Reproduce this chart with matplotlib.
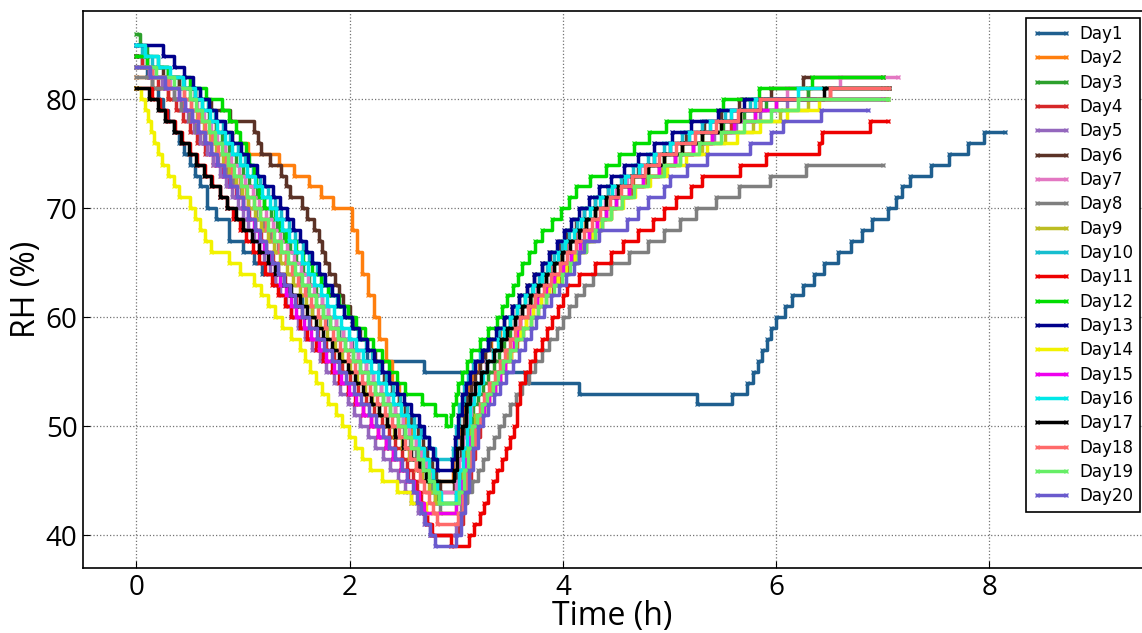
import matplotlib
matplotlib.use('Agg')
import matplotlib.pyplot as plt

plt.rcParams['font.family'] = ['Open Sans', 'DejaVu Sans']

# (time h, RH %) step points, one list per day
day1 = [(0, 84), (0.05, 83), (0.1, 82), (0.15, 81), (0.2, 80), (0.25, 79), (0.3, 78), (0.35, 77), (0.4, 76),
        (0.45, 75), (0.5, 74), (0.55, 73), (0.6, 72), (0.66, 70), (0.75, 69), (0.87, 67), (1.0, 66), (1.1, 65),
        (1.18, 64), (1.3, 63), (1.42, 62), (1.55, 61), (1.65, 60), (1.78, 59), (1.9, 58), (2.02, 57), (2.16, 56),
        (2.7, 55), (3.66, 54), (4.15, 53), (5.26, 52), (5.59, 53), (5.73, 54), (5.78, 55), (5.83, 56), (5.87, 57),
        (5.91, 58), (5.95, 59), (6.0, 60), (6.08, 61), (6.15, 62), (6.25, 63), (6.35, 64), (6.45, 65), (6.58, 66),
        (6.7, 67), (6.8, 68), (6.9, 69), (7.05, 70), (7.12, 71), (7.18, 72), (7.25, 73), (7.45, 74), (7.62, 75),
        (7.8, 76), (7.95, 77), (8.15, 77)]
day2 = [(0, 82), (0.15, 81), (0.3, 80), (0.45, 79), (0.6, 78), (0.75, 77), (0.9, 76), (1.05, 75), (1.34, 74),
        (1.48, 73), (1.62, 72), (1.73, 71), (1.84, 70), (2.02, 68), (2.07, 66), (2.12, 64), (2.17, 62), (2.23, 60),
        (2.28, 58), (2.34, 56), (2.4, 54), (2.46, 52), (2.52, 50), (2.58, 48), (2.64, 47), (2.72, 46), (2.8, 45),
        (2.97, 47), (3.0, 49), (3.03, 51), (3.07, 53), (3.11, 54), (3.16, 55), (3.21, 56), (3.27, 57), (3.33, 58),
        (3.41, 59), (3.5, 60), (3.57, 61), (3.64, 62), (3.72, 63), (3.8, 64), (3.88, 65), (3.96, 66), (4.04, 67),
        (4.12, 68), (4.21, 69), (4.3, 70), (4.4, 71), (4.52, 72), (4.66, 73), (4.8, 74), (4.95, 75), (5.12, 76),
        (5.3, 77), (5.48, 78), (5.66, 79), (5.85, 80), (6.3, 81), (7.05, 81)]
day3 = [(0, 86), (0.03, 85), (0.1, 84), (0.2, 83), (0.3, 82), (0.4, 81), (0.55, 80), (0.62, 79), (0.68, 78),
        (0.75, 77), (0.8, 76), (0.87, 75), (0.93, 74), (1.0, 73), (1.06, 72), (1.13, 71), (1.2, 70), (1.26, 69),
        (1.32, 68), (1.38, 67), (1.44, 66), (1.5, 65), (1.56, 64), (1.62, 63), (1.68, 62), (1.74, 61), (1.8, 60),
        (1.87, 59), (1.94, 58), (2.01, 57), (2.08, 56), (2.15, 55), (2.22, 54), (2.29, 53), (2.36, 52), (2.43, 51),
        (2.5, 50), (2.56, 49), (2.62, 48), (2.67, 47), (2.71, 46), (2.75, 45), (2.78, 44), (2.82, 43),
        (3.0, 44), (3.04, 46), (3.08, 48), (3.12, 50), (3.16, 52), (3.2, 53), (3.25, 54), (3.3, 55), (3.35, 56),
        (3.4, 57), (3.45, 58), (3.5, 59), (3.55, 60), (3.62, 61), (3.7, 62), (3.77, 63), (3.84, 64), (3.92, 65),
        (3.99, 66), (4.06, 67), (4.14, 68), (4.22, 69), (4.3, 70), (4.4, 71), (4.52, 72), (4.65, 73), (4.8, 74),
        (4.95, 75), (5.12, 76), (5.3, 77), (5.5, 78), (5.7, 79), (5.9, 80), (6.3, 81), (7.06, 81)]
day4 = [(0, 84), (0.05, 83), (0.12, 82), (0.2, 81), (0.3, 80), (0.37, 79), (0.44, 78), (0.5, 77), (0.57, 76),
        (0.64, 75), (0.72, 74), (0.79, 73), (0.86, 72), (0.93, 71), (1.0, 70), (1.06, 69), (1.11, 68), (1.17, 67),
        (1.22, 66), (1.28, 65), (1.33, 64), (1.39, 63), (1.44, 62), (1.5, 61), (1.55, 60), (1.63, 59), (1.7, 58),
        (1.78, 57), (1.85, 56), (1.93, 55), (2.0, 54), (2.08, 53), (2.15, 52), (2.23, 51), (2.3, 50), (2.37, 49),
        (2.43, 48), (2.49, 47), (2.54, 46), (2.59, 45), (2.63, 44), (2.67, 43), (2.7, 42), (2.73, 41), (2.76, 40),
        (3.02, 41), (3.06, 43), (3.1, 45), (3.14, 47), (3.18, 49), (3.22, 51), (3.26, 52), (3.31, 53), (3.36, 54),
        (3.41, 55), (3.46, 56), (3.51, 57), (3.57, 58), (3.63, 59), (3.7, 60), (3.77, 61), (3.84, 62), (3.91, 63),
        (3.98, 64), (4.06, 65), (4.14, 66), (4.22, 67), (4.3, 68), (4.37, 69), (4.45, 70), (4.55, 71), (4.65, 72),
        (4.77, 73), (4.9, 74), (5.05, 75), (5.22, 76), (5.4, 77), (5.58, 78), (5.8, 79), (6.0, 80), (6.5, 81),
        (7.0, 81)]
day5 = [(0, 83), (0.12, 82), (0.24, 81), (0.35, 80), (0.42, 79), (0.48, 78), (0.54, 77), (0.6, 76), (0.66, 75),
        (0.72, 74), (0.78, 73), (0.84, 72), (0.9, 71), (0.95, 70), (1.0, 69), (1.05, 68), (1.1, 67), (1.15, 66),
        (1.2, 65), (1.25, 64), (1.3, 63), (1.35, 62), (1.4, 61), (1.45, 60), (1.52, 59), (1.58, 58), (1.65, 57),
        (1.72, 56), (1.78, 55), (1.85, 54), (1.91, 53), (1.98, 52), (2.04, 51), (2.1, 50), (2.17, 49), (2.24, 48),
        (2.31, 47), (2.38, 46), (2.45, 45), (2.52, 44), (2.58, 43), (2.64, 42), (2.7, 41), (2.75, 40),
        (3.0, 41), (3.04, 43), (3.08, 45), (3.12, 47), (3.16, 49), (3.2, 51), (3.24, 52), (3.29, 53), (3.34, 54),
        (3.39, 55), (3.44, 56), (3.49, 57), (3.54, 58), (3.57, 59), (3.6, 60), (3.68, 61), (3.76, 62), (3.84, 63),
        (3.92, 64), (4.0, 65), (4.08, 66), (4.16, 67), (4.24, 68), (4.32, 69), (4.4, 70), (4.5, 71), (4.62, 72),
        (4.75, 73), (4.9, 74), (5.05, 75), (5.22, 76), (5.42, 77), (5.62, 78), (5.85, 79), (6.1, 80), (7.05, 80)]
day6 = [(0, 84), (0.1, 83), (0.25, 82), (0.4, 81), (0.55, 80), (0.7, 79), (0.88, 78), (1.1, 77), (1.14, 76),
        (1.17, 75), (1.25, 74), (1.36, 73), (1.4, 72), (1.44, 71), (1.55, 70), (1.6, 69), (1.67, 68), (1.71, 67),
        (1.74, 66), (1.77, 65), (1.81, 64), (1.86, 63), (1.9, 62), (1.94, 61), (2.0, 60), (2.04, 59), (2.1, 58),
        (2.16, 57), (2.24, 56), (2.28, 55), (2.32, 54), (2.4, 53), (2.46, 52), (2.52, 51), (2.58, 50), (2.64, 49),
        (2.69, 48), (2.73, 47), (2.77, 46), (2.81, 45), (2.85, 44),
        (2.98, 45), (3.01, 47), (3.04, 49), (3.07, 51), (3.1, 53), (3.14, 54), (3.18, 55), (3.22, 56), (3.27, 57),
        (3.32, 58), (3.38, 59), (3.45, 60), (3.52, 61), (3.59, 62), (3.66, 63), (3.73, 64), (3.8, 65), (3.88, 66),
        (3.96, 67), (4.04, 68), (4.12, 69), (4.2, 70), (4.3, 71), (4.42, 72), (4.55, 73), (4.7, 74), (4.85, 75),
        (5.0, 76), (5.15, 77), (5.32, 78), (5.48, 79), (5.65, 80), (5.95, 81), (6.25, 82), (7.0, 82)]
day7 = [(0, 83), (0.15, 82), (0.32, 81), (0.5, 80), (0.57, 79), (0.63, 78), (0.7, 77), (0.76, 76), (0.83, 75),
        (0.89, 74), (0.96, 73), (1.02, 72), (1.09, 71), (1.15, 70), (1.22, 69), (1.28, 68), (1.35, 67), (1.41, 66),
        (1.48, 65), (1.54, 64), (1.61, 63), (1.67, 62), (1.74, 61), (1.8, 60), (1.87, 59), (1.94, 58), (2.01, 57),
        (2.08, 56), (2.15, 55), (2.22, 54), (2.29, 53), (2.36, 52), (2.43, 51), (2.5, 50), (2.56, 49), (2.62, 48),
        (2.67, 47), (2.72, 46), (2.76, 45), (2.8, 44),
        (3.0, 45), (3.03, 47), (3.06, 49), (3.1, 51), (3.14, 53), (3.18, 54), (3.23, 55), (3.28, 56), (3.34, 57),
        (3.4, 58), (3.47, 59), (3.55, 60), (3.62, 61), (3.69, 62), (3.76, 63), (3.84, 64), (3.91, 65), (3.99, 66),
        (4.06, 67), (4.14, 68), (4.22, 69), (4.3, 70), (4.39, 71), (4.5, 72), (4.6, 73), (4.72, 74), (4.85, 75),
        (5.0, 76), (5.18, 77), (5.38, 78), (5.58, 79), (5.8, 80), (6.1, 81), (6.6, 82), (7.14, 82)]
day8 = [(0, 82), (0.15, 81), (0.35, 80), (0.42, 79), (0.49, 78), (0.56, 77), (0.63, 76), (0.7, 75), (0.77, 74),
        (0.84, 73), (0.91, 72), (0.98, 71), (1.05, 70), (1.12, 69), (1.19, 68), (1.26, 67), (1.33, 66), (1.4, 65),
        (1.47, 64), (1.54, 63), (1.61, 62), (1.68, 61), (1.75, 60), (1.82, 59), (1.89, 58), (1.96, 57), (2.03, 56),
        (2.1, 55), (2.17, 54), (2.24, 53), (2.31, 52), (2.38, 51), (2.45, 50), (2.51, 49), (2.57, 48), (2.62, 47),
        (2.67, 46), (2.72, 45), (2.76, 44), (2.8, 43), (2.85, 42),
        (3.05, 43), (3.1, 44), (3.15, 45), (3.2, 46), (3.25, 47), (3.3, 48), (3.35, 49), (3.4, 50), (3.45, 51),
        (3.5, 52), (3.56, 53), (3.62, 54), (3.68, 55), (3.74, 56), (3.8, 57), (3.87, 58), (3.94, 59), (4.0, 60),
        (4.06, 61), (4.12, 62), (4.2, 63), (4.28, 64), (4.45, 65), (4.62, 66), (4.8, 67), (4.95, 68), (5.1, 69),
        (5.25, 70), (5.44, 71), (5.65, 72), (5.94, 73), (6.28, 74), (7.0, 74)]
day9 = [(0, 83), (0.15, 82), (0.3, 81), (0.45, 80), (0.51, 79), (0.57, 78), (0.63, 77), (0.69, 76), (0.75, 75),
        (0.81, 74), (0.87, 73), (0.93, 72), (0.99, 71), (1.05, 70), (1.11, 69), (1.17, 68), (1.23, 67), (1.29, 66),
        (1.35, 65), (1.41, 64), (1.47, 63), (1.53, 62), (1.59, 61), (1.65, 60), (1.72, 59), (1.79, 58), (1.86, 57),
        (1.93, 56), (2.0, 55), (2.07, 54), (2.14, 53), (2.21, 52), (2.28, 51), (2.35, 50), (2.42, 49), (2.49, 48),
        (2.56, 47), (2.62, 46), (2.68, 45), (2.74, 44), (2.8, 43),
        (3.02, 44), (3.06, 46), (3.1, 48), (3.14, 50), (3.18, 51), (3.23, 52), (3.28, 53), (3.33, 54), (3.38, 55),
        (3.43, 56), (3.48, 57), (3.54, 58), (3.6, 59), (3.65, 60), (3.72, 61), (3.79, 62), (3.86, 63), (3.94, 64),
        (4.02, 65), (4.1, 66), (4.17, 67), (4.25, 68), (4.32, 69), (4.4, 70), (4.5, 71), (4.62, 72), (4.76, 73),
        (4.92, 74), (5.1, 75), (5.3, 76), (5.52, 77), (5.78, 78), (6.04, 79), (6.3, 80), (7.05, 80)]
day10 = [(0, 85), (0.05, 84), (0.15, 83), (0.3, 82), (0.45, 81), (0.6, 80), (0.67, 79), (0.74, 78), (0.81, 77),
         (0.88, 76), (0.95, 75), (1.02, 74), (1.09, 73), (1.16, 72), (1.23, 71), (1.3, 70), (1.36, 69), (1.43, 68),
         (1.49, 67), (1.56, 66), (1.62, 65), (1.69, 64), (1.75, 63), (1.82, 62), (1.88, 61), (1.95, 60), (2.02, 59),
         (2.08, 58), (2.15, 57), (2.21, 56), (2.28, 55), (2.34, 54), (2.41, 53), (2.47, 52), (2.54, 51), (2.6, 50),
         (2.67, 49), (2.74, 48), (2.8, 47),
         (2.97, 48), (3.0, 50), (3.03, 52), (3.07, 54), (3.11, 55), (3.16, 56), (3.22, 57), (3.3, 58), (3.4, 59),
         (3.5, 60), (3.57, 61), (3.64, 62), (3.71, 63), (3.78, 64), (3.85, 65), (3.92, 66), (3.99, 67), (4.06, 68),
         (4.13, 69), (4.2, 70), (4.3, 71), (4.42, 72), (4.54, 73), (4.66, 74), (4.8, 75), (4.95, 76), (5.12, 77),
         (5.3, 78), (5.52, 79), (5.75, 80), (7.03, 80)]
day11 = [(0, 81), (0.15, 80), (0.22, 79), (0.29, 78), (0.36, 77), (0.43, 76), (0.5, 75), (0.57, 74), (0.64, 73),
         (0.71, 72), (0.78, 71), (0.85, 70), (0.91, 69), (0.97, 68), (1.03, 67), (1.09, 66), (1.15, 65), (1.21, 64),
         (1.27, 63), (1.33, 62), (1.39, 61), (1.45, 60), (1.53, 59), (1.6, 58), (1.68, 57), (1.75, 56), (1.83, 55),
         (1.9, 54), (1.98, 53), (2.05, 52), (2.13, 51), (2.2, 50), (2.27, 49), (2.34, 48), (2.41, 47), (2.48, 46),
         (2.55, 45), (2.61, 44), (2.66, 43), (2.7, 42), (2.73, 41), (2.77, 40), (2.95, 39),
         (3.12, 40), (3.17, 41), (3.22, 42), (3.26, 43), (3.3, 44), (3.34, 45), (3.38, 46), (3.43, 47), (3.47, 48),
         (3.5, 49), (3.54, 50), (3.57, 52), (3.6, 54), (3.64, 55), (3.69, 56), (3.74, 57), (3.8, 58), (3.85, 59),
         (3.9, 60), (3.95, 61), (4.0, 62), (4.04, 63), (4.15, 64), (4.3, 65), (4.45, 66), (4.56, 67), (4.7, 68),
         (4.84, 69), (4.95, 70), (5.06, 71), (5.2, 72), (5.3, 73), (5.66, 74), (5.9, 75), (6.4, 76), (6.43, 77),
         (6.88, 78), (7.05, 78)]
day12 = [(0, 84), (0.1, 83), (0.3, 82), (0.5, 81), (0.65, 80), (0.8, 79), (0.87, 78), (0.93, 77), (0.97, 76),
         (1.03, 75), (1.06, 74), (1.1, 73), (1.12, 72), (1.15, 71), (1.2, 70), (1.3, 69), (1.35, 68), (1.4, 67),
         (1.5, 66), (1.56, 65), (1.65, 64), (1.73, 63), (1.8, 62), (1.9, 61), (1.98, 60), (2.06, 59), (2.14, 58),
         (2.22, 57), (2.3, 56), (2.37, 55), (2.44, 54), (2.52, 53), (2.68, 52), (2.8, 51), (2.9, 50),
         (2.95, 51), (2.97, 52), (3.0, 53), (3.02, 54), (3.05, 55), (3.1, 56), (3.14, 57), (3.22, 58), (3.3, 59),
         (3.38, 60), (3.43, 61), (3.48, 62), (3.53, 63), (3.58, 64), (3.62, 65), (3.68, 66), (3.74, 67), (3.8, 68),
         (3.9, 69), (3.98, 70), (4.06, 71), (4.12, 72), (4.25, 73), (4.4, 74), (4.53, 75), (4.67, 76), (4.81, 77),
         (4.97, 78), (5.19, 79), (5.5, 80), (5.84, 81), (6.34, 82), (7.0, 82)]
day13 = [(0, 85), (0.25, 84), (0.35, 83), (0.45, 82), (0.53, 81), (0.6, 80), (0.68, 79), (0.75, 78), (0.83, 77),
         (0.9, 76), (0.98, 75), (1.05, 74), (1.13, 73), (1.2, 72), (1.28, 71), (1.35, 70), (1.41, 69), (1.47, 68),
         (1.53, 67), (1.59, 66), (1.65, 65), (1.71, 64), (1.77, 63), (1.83, 62), (1.89, 61), (1.95, 60), (2.02, 59),
         (2.09, 58), (2.16, 57), (2.23, 56), (2.3, 55), (2.37, 54), (2.44, 53), (2.51, 52), (2.58, 51), (2.65, 50),
         (2.7, 49), (2.74, 48), (2.78, 47), (2.82, 46),
         (2.96, 47), (2.99, 49), (3.02, 51), (3.05, 53), (3.09, 54), (3.13, 55), (3.18, 56), (3.24, 57), (3.3, 58),
         (3.37, 59), (3.45, 60), (3.52, 61), (3.59, 62), (3.66, 63), (3.73, 64), (3.8, 65), (3.87, 66), (3.94, 67),
         (4.01, 68), (4.08, 69), (4.15, 70), (4.24, 71), (4.34, 72), (4.45, 73), (4.57, 74), (4.7, 75), (4.85, 76),
         (5.02, 77), (5.2, 78), (5.45, 79), (5.7, 80), (7.03, 80)]
day14 = [(0, 81), (0.04, 80), (0.08, 79), (0.11, 78), (0.14, 77), (0.17, 76), (0.2, 75), (0.24, 74), (0.3, 73),
         (0.35, 72), (0.4, 71), (0.5, 70), (0.55, 69), (0.6, 68), (0.64, 67), (0.7, 66), (0.87, 65), (0.97, 64),
         (1.1, 63), (1.17, 62), (1.23, 61), (1.3, 60), (1.37, 59), (1.45, 58), (1.53, 57), (1.58, 56), (1.63, 55),
         (1.68, 54), (1.74, 53), (1.8, 52), (1.87, 51), (1.93, 50), (1.99, 49), (2.05, 48), (2.12, 47), (2.19, 46),
         (2.3, 45), (2.44, 44), (2.58, 43), (2.72, 42),
         (3.0, 43), (3.04, 45), (3.08, 47), (3.12, 49), (3.16, 50), (3.21, 51), (3.26, 52), (3.31, 53), (3.36, 54),
         (3.41, 55), (3.46, 56), (3.51, 57), (3.56, 58), (3.6, 59), (3.65, 60), (3.72, 61), (3.79, 62), (3.87, 63),
         (3.95, 64), (4.03, 65), (4.11, 66), (4.2, 67), (4.28, 68), (4.36, 69), (4.45, 70), (4.56, 71), (4.68, 72),
         (4.82, 73), (4.98, 74), (5.15, 75), (5.35, 76), (5.63, 77), (5.85, 78), (6.1, 79), (6.4, 80), (7.03, 80)]
day15 = [(0, 83), (0.15, 82), (0.28, 81), (0.4, 80), (0.46, 79), (0.52, 78), (0.58, 77), (0.64, 76), (0.7, 75),
         (0.76, 74), (0.82, 73), (0.88, 72), (0.94, 71), (1.0, 70), (1.05, 69), (1.1, 68), (1.15, 67), (1.2, 66),
         (1.25, 65), (1.3, 64), (1.35, 63), (1.4, 62), (1.45, 61), (1.5, 60), (1.57, 59), (1.64, 58), (1.71, 57),
         (1.78, 56), (1.85, 55), (1.92, 54), (1.99, 53), (2.06, 52), (2.13, 51), (2.2, 50), (2.27, 49), (2.34, 48),
         (2.41, 47), (2.48, 46), (2.54, 45), (2.6, 44), (2.65, 43), (2.7, 42),
         (3.0, 43), (3.04, 45), (3.08, 47), (3.12, 49), (3.16, 50), (3.21, 51), (3.26, 52), (3.31, 53), (3.36, 54),
         (3.41, 55), (3.46, 56), (3.5, 57), (3.54, 58), (3.57, 59), (3.6, 60), (3.68, 61), (3.76, 62), (3.84, 63),
         (3.92, 64), (4.0, 65), (4.08, 66), (4.16, 67), (4.24, 68), (4.32, 69), (4.4, 70), (4.5, 71), (4.62, 72),
         (4.75, 73), (4.9, 74), (5.05, 75), (5.22, 76), (5.4, 77), (5.6, 78), (5.8, 79), (6.0, 80), (7.0, 80)]
day16 = [(0, 85), (0.08, 84), (0.2, 83), (0.32, 82), (0.44, 81), (0.55, 80), (0.62, 79), (0.69, 78), (0.76, 77),
         (0.83, 76), (0.9, 75), (0.97, 74), (1.04, 73), (1.11, 72), (1.18, 71), (1.25, 70), (1.31, 69), (1.37, 68),
         (1.43, 67), (1.49, 66), (1.55, 65), (1.61, 64), (1.67, 63), (1.73, 62), (1.79, 61), (1.85, 60), (1.92, 59),
         (1.99, 58), (2.06, 57), (2.13, 56), (2.2, 55), (2.27, 54), (2.34, 53), (2.41, 52), (2.48, 51), (2.55, 50),
         (2.6, 49), (2.65, 48), (2.7, 47), (2.74, 46), (2.78, 45), (2.82, 44), (2.86, 43),
         (3.0, 44), (3.03, 46), (3.06, 48), (3.1, 50), (3.13, 52), (3.17, 53), (3.21, 54), (3.25, 55), (3.29, 56),
         (3.34, 57), (3.39, 58), (3.45, 59), (3.5, 60), (3.57, 61), (3.64, 62), (3.72, 63), (3.8, 64), (3.87, 65),
         (3.95, 66), (4.02, 67), (4.1, 68), (4.17, 69), (4.25, 70), (4.35, 71), (4.46, 72), (4.58, 73), (4.71, 74),
         (4.85, 75), (5.0, 76), (5.18, 77), (5.38, 78), (5.58, 79), (5.8, 80), (6.2, 81), (7.06, 81)]
day17 = [(0, 81), (0.12, 80), (0.2, 79), (0.27, 78), (0.35, 77), (0.42, 76), (0.49, 75), (0.56, 74), (0.63, 73),
         (0.7, 72), (0.78, 71), (0.85, 70), (0.93, 69), (1.0, 68), (1.08, 67), (1.15, 66), (1.23, 65), (1.3, 64),
         (1.38, 63), (1.45, 62), (1.53, 61), (1.6, 60), (1.68, 59), (1.75, 58), (1.83, 57), (1.9, 56), (1.98, 55),
         (2.05, 54), (2.13, 53), (2.2, 52), (2.28, 51), (2.35, 50), (2.43, 49), (2.5, 48), (2.58, 47), (2.65, 46),
         (2.72, 45),
         (2.98, 46), (3.01, 48), (3.05, 50), (3.09, 52), (3.13, 53), (3.18, 54), (3.23, 55), (3.29, 56), (3.35, 57),
         (3.42, 58), (3.48, 59), (3.55, 60), (3.62, 61), (3.69, 62), (3.77, 63), (3.84, 64), (3.92, 65), (3.99, 66),
         (4.07, 67), (4.15, 68), (4.22, 69), (4.3, 70), (4.4, 71), (4.52, 72), (4.65, 73), (4.8, 74), (4.95, 75),
         (5.12, 76), (5.3, 77), (5.48, 78), (5.66, 79), (5.85, 80), (6.45, 81), (7.06, 81)]
day18 = [(0, 83), (0.15, 82), (0.3, 81), (0.45, 80), (0.51, 79), (0.58, 78), (0.64, 77), (0.71, 76), (0.77, 75),
         (0.84, 74), (0.9, 73), (0.97, 72), (1.03, 71), (1.1, 70), (1.16, 69), (1.22, 68), (1.28, 67), (1.34, 66),
         (1.4, 65), (1.46, 64), (1.52, 63), (1.58, 62), (1.64, 61), (1.7, 60), (1.77, 59), (1.84, 58), (1.91, 57),
         (1.98, 56), (2.05, 55), (2.12, 54), (2.19, 53), (2.26, 52), (2.33, 51), (2.4, 50), (2.46, 49), (2.52, 48),
         (2.57, 47), (2.62, 46), (2.66, 45), (2.7, 44), (2.74, 43), (2.78, 42), (2.82, 41),
         (3.02, 42), (3.06, 44), (3.1, 46), (3.14, 48), (3.18, 50), (3.22, 52), (3.26, 53), (3.31, 54), (3.36, 55),
         (3.41, 56), (3.46, 57), (3.5, 58), (3.55, 59), (3.6, 60), (3.67, 61), (3.74, 62), (3.82, 63), (3.89, 64),
         (3.97, 65), (4.04, 66), (4.12, 67), (4.2, 68), (4.27, 69), (4.35, 70), (4.44, 71), (4.54, 72), (4.65, 73),
         (4.77, 74), (4.9, 75), (5.06, 76), (5.24, 77), (5.44, 78), (5.64, 79), (5.85, 80), (6.5, 81), (7.06, 81)]
day19 = [(0, 83), (0.18, 82), (0.35, 81), (0.5, 80), (0.56, 79), (0.62, 78), (0.68, 77), (0.74, 76), (0.8, 75),
         (0.86, 74), (0.92, 73), (0.98, 72), (1.04, 71), (1.1, 70), (1.16, 69), (1.23, 68), (1.29, 67), (1.36, 66),
         (1.42, 65), (1.49, 64), (1.55, 63), (1.62, 62), (1.68, 61), (1.75, 60), (1.82, 59), (1.89, 58), (1.96, 57),
         (2.03, 56), (2.1, 55), (2.17, 54), (2.24, 53), (2.31, 52), (2.38, 51), (2.45, 50), (2.52, 49), (2.58, 48),
         (2.64, 47), (2.69, 46), (2.74, 45), (2.79, 44), (2.84, 43),
         (3.03, 44), (3.07, 46), (3.11, 48), (3.15, 50), (3.19, 51), (3.24, 52), (3.29, 53), (3.34, 54), (3.39, 55),
         (3.44, 56), (3.5, 57), (3.56, 58), (3.63, 59), (3.7, 60), (3.77, 61), (3.84, 62), (3.92, 63), (3.99, 64),
         (4.07, 65), (4.14, 66), (4.22, 67), (4.3, 68), (4.37, 69), (4.45, 70), (4.55, 71), (4.67, 72), (4.8, 73),
         (4.95, 74), (5.1, 75), (5.28, 76), (5.48, 77), (5.7, 78), (5.95, 79), (6.2, 80), (7.05, 80)]
day20 = [(0, 83), (0.13, 82), (0.27, 81), (0.4, 80), (0.46, 79), (0.52, 78), (0.58, 77), (0.64, 76), (0.7, 75),
         (0.76, 74), (0.82, 73), (0.88, 72), (0.94, 71), (1.0, 70), (1.05, 69), (1.11, 68), (1.16, 67), (1.22, 66),
         (1.27, 65), (1.33, 64), (1.38, 63), (1.44, 62), (1.49, 61), (1.55, 60), (1.62, 59), (1.69, 58), (1.76, 57),
         (1.83, 56), (1.9, 55), (1.97, 54), (2.04, 53), (2.11, 52), (2.18, 51), (2.25, 50), (2.31, 49), (2.37, 48),
         (2.43, 47), (2.49, 46), (2.54, 45), (2.59, 44), (2.63, 43), (2.67, 42), (2.71, 41), (2.75, 40), (2.8, 39),
         (3.0, 40), (3.04, 42), (3.08, 44), (3.12, 46), (3.16, 48), (3.2, 50), (3.25, 51), (3.3, 52), (3.35, 53),
         (3.41, 54), (3.47, 55), (3.53, 56), (3.59, 57), (3.64, 58), (3.7, 59), (3.75, 60), (3.82, 61), (3.89, 62),
         (3.96, 63), (4.03, 64), (4.1, 65), (4.15, 66), (4.2, 67), (4.34, 68), (4.6, 69), (4.7, 70), (4.8, 71),
         (4.95, 72), (5.0, 73), (5.16, 74), (5.35, 75), (5.75, 76), (5.95, 77), (6.06, 78), (6.42, 79), (6.86, 79)]

days = [day1, day2, day3, day4, day5, day6, day7, day8, day9, day10,
        day11, day12, day13, day14, day15, day16, day17, day18, day19, day20]
labels = ['Day1', 'Day2', 'Day3', 'Day4', 'Day5', 'Day6', 'Day7', 'Day8', 'Day9', 'Day10',
          'Day11', 'Day12', 'Day13', 'Day14', 'Day15', 'Day16', 'Day17', 'Day18', 'Day19', 'Day20']
colors = ['#1f5f8f', '#ff7f0e', '#2ca02c', '#d62728', '#9467bd', '#5b3226', '#e377c2', '#7f7f7f',
          '#bcbd22', '#17becf', '#ee0000', '#00dd00', '#00008b', '#f2f200', '#ee00ee', '#00e8e8',
          '#000000', '#ff6a6a', '#66ee66', '#6a5acd']

fig = plt.figure(figsize=(11.42, 6.33), dpi=100)
ax = fig.add_axes([0.0727, 0.1027, 0.9273, 0.88])

for d, lab, c in zip(days, labels, colors):
    t = [p[0] for p in d]
    rh = [p[1] for p in d]
    ax.plot(t, rh, drawstyle='steps-post', color=c, lw=2.5, marker='x', ms=3, mew=0.8, label=lab)

ax.set_xlim(-0.5, 9.43)
ax.set_ylim(37, 88.1)
ax.set_xticks([0, 2, 4, 6, 8])
ax.set_yticks([40, 50, 60, 70, 80])
ax.tick_params(direction='in', labelsize=20, length=5, pad=4)
ax.grid(True, ls=':', color='0.45', lw=0.9)
ax.spines['right'].set_visible(False)
for s in ['left', 'bottom', 'top']:
    ax.spines[s].set_linewidth(1.2)
ax.set_xlabel('Time (h)', fontsize=23, labelpad=-1)
ax.set_ylabel('RH (%)', fontsize=23, labelpad=2)

leg = ax.legend(loc='upper right', bbox_to_anchor=(0.998, 0.987), borderaxespad=0,
                prop={'family': 'DejaVu Sans', 'size': 12},
                numpoints=2, handlelength=2.3, handletextpad=0.5, labelspacing=0.38,
                borderpad=0.4, fancybox=False, framealpha=1, edgecolor='k')
leg.get_frame().set_linewidth(1.2)

fig.savefig('out.png', dpi=100)
